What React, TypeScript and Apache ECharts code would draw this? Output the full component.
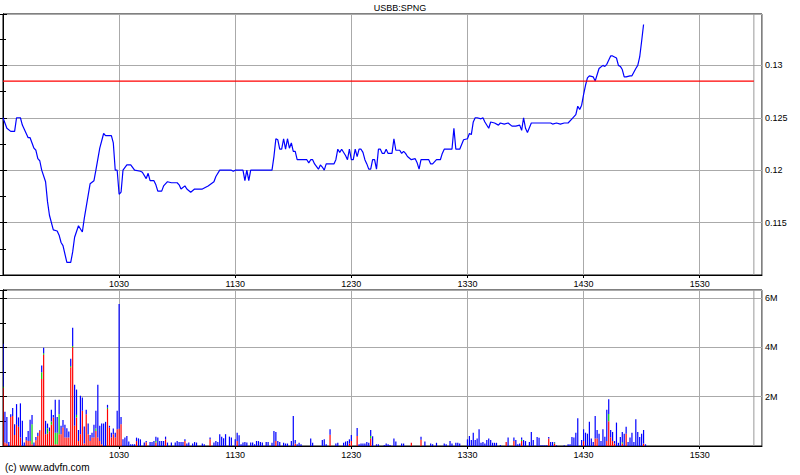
import React, { useEffect, useRef } from 'react';
import * as echarts from 'echarts';

const FONT = '"Liberation Sans", Arial, sans-serif';
const chartTitle = 'USBB:SPNG';
const copyright = '(c) www.advfn.com';
const prevClose = 0.1285;
const closeMarker = 388; // minutes after 09:30, grey vertical line

// intraday price: minutes after 09:30 and last trade price
const priceMinutes = [
  0, 2, 4, 6, 7, 9, 10, 13, 14, 16, 17, 18, 19, 20, 22, 23, 24, 26, 28, 29,
  30, 31, 33, 35, 36, 37, 39, 41, 42, 45, 47, 48, 50, 52, 53, 56, 57, 58, 59, 60,
  61, 62, 64, 66, 68, 71, 72, 74, 75, 76, 78, 79, 80, 82, 83, 85, 87, 90, 91, 92,
  94, 95, 97, 99, 103, 106, 109, 110, 112, 118, 119, 120, 124, 125, 126, 127, 128, 139, 140, 141,
  142, 143, 144, 145, 146, 147, 148, 149, 150, 151, 152, 157, 158, 159, 160, 161, 163, 164, 165, 166,
  167, 171, 172, 173, 174, 175, 177, 178, 179, 180, 181, 182, 183, 184, 185, 186, 187, 188, 189, 190,
  191, 192, 193, 194, 195, 196, 197, 198, 199, 201, 202, 203, 205, 206, 207, 208, 209, 211, 213, 214,
  215, 216, 220, 221, 222, 224, 226, 227, 228, 232, 233, 234, 236, 238, 240, 241, 242, 243, 244, 245,
  247, 248, 249, 251, 252, 254, 256, 257, 259, 261, 263, 265, 267, 268, 269, 270, 271, 273, 276, 279,
  283, 284, 286, 288, 290, 292, 294, 296, 297, 298, 299, 300, 301, 302, 303, 305, 306, 307, 308, 310,
  311, 312, 314, 315, 317, 318, 319, 320, 321, 322, 324, 325, 327, 328, 329, 330, 331,
];
const priceValues = [
  0.125, 0.124, 0.1237, 0.1237, 0.125, 0.125, 0.1243, 0.1231, 0.1231, 0.1221, 0.1219, 0.1211, 0.1209, 0.12, 0.1189, 0.117, 0.1157, 0.1143, 0.1142, 0.1138,
  0.1131, 0.1128, 0.1112, 0.1112, 0.1122, 0.1136, 0.1147, 0.1141, 0.1154, 0.1187, 0.119, 0.12, 0.1221, 0.1235, 0.1233, 0.1233, 0.1226, 0.12, 0.12, 0.1177,
  0.1179, 0.12, 0.1205, 0.1205, 0.12, 0.1199, 0.1198, 0.1192, 0.1197, 0.119, 0.119, 0.1186, 0.118, 0.118, 0.1185, 0.1189, 0.1188, 0.1188, 0.1186, 0.1182,
  0.1185, 0.1182, 0.1179, 0.1182, 0.1182, 0.1185, 0.1189, 0.1194, 0.12, 0.12, 0.1199, 0.12, 0.12, 0.119, 0.12, 0.119, 0.12, 0.12, 0.1213, 0.123,
  0.1229, 0.122, 0.122, 0.123, 0.122, 0.123, 0.1221, 0.1226, 0.1218, 0.1218, 0.121, 0.121, 0.1207, 0.121, 0.121, 0.1206, 0.1201, 0.1205, 0.1203, 0.12,
  0.1206, 0.1206, 0.121, 0.122, 0.1217, 0.122, 0.1214, 0.121, 0.122, 0.121, 0.121, 0.122, 0.1213, 0.122, 0.122, 0.1217, 0.121, 0.1206, 0.1201, 0.1201,
  0.121, 0.121, 0.1201, 0.122, 0.122, 0.1216, 0.1216, 0.122, 0.1216, 0.1216, 0.123, 0.1219, 0.1219, 0.1216, 0.1218, 0.1216, 0.1213, 0.121, 0.1211, 0.1207,
  0.1201, 0.121, 0.121, 0.1206, 0.1206, 0.121, 0.121, 0.1216, 0.122, 0.122, 0.124, 0.122, 0.122, 0.1229, 0.123, 0.1235, 0.1234, 0.1246, 0.125, 0.125,
  0.1249, 0.125, 0.1246, 0.124, 0.1246, 0.1245, 0.1243, 0.1245, 0.1244, 0.1245, 0.1242, 0.1242, 0.1243, 0.1238, 0.125, 0.124, 0.1236, 0.1245, 0.1245, 0.1245,
  0.1245, 0.1244, 0.1245, 0.1244, 0.1245, 0.1245, 0.1249, 0.1253, 0.1261, 0.1258, 0.1262, 0.1272, 0.1281, 0.1288, 0.129, 0.1289, 0.1285, 0.1291, 0.1297, 0.13,
  0.1299, 0.1301, 0.1309, 0.1309, 0.1307, 0.13, 0.1299, 0.1296, 0.1289, 0.1289, 0.129, 0.129, 0.1297, 0.13, 0.1308, 0.1323, 0.1339,
];

// volume per minute (millions): total, red part, green part (blue = rest)
const volMinutes = [
  0, 1, 2, 3, 4, 5, 6, 7, 8, 9,
  10, 11, 12, 13, 14, 15, 16, 17, 18, 19,
  20, 21, 22, 23, 24, 25, 26, 27, 28, 29,
  30, 31, 32, 33, 34, 35, 36, 37, 38, 39,
  40, 41, 42, 43, 44, 45, 46, 47, 48, 49,
  50, 51, 52, 53, 54, 55, 56, 57, 58, 59,
  60, 61, 62, 63, 64, 65, 66, 67, 68, 69,
  70, 71, 73, 74, 76, 77, 78, 79, 80, 81,
  82, 83, 84, 85, 87, 89, 90, 91, 92, 93,
  94, 95, 96, 98, 99, 100, 103, 104, 107, 109,
  110, 111, 112, 113, 114, 115, 117, 118, 120, 121,
  122, 123, 124, 125, 126, 128, 129, 130, 131, 132,
  133, 134, 136, 137, 139, 140, 141, 142, 143, 145,
  146, 147, 149, 150, 151, 152, 153, 154, 159, 160,
  165, 166, 167, 169, 172, 173, 176, 177, 178, 179,
  180, 183, 184, 185, 186, 187, 188, 189, 190, 191,
  193, 194, 197, 198, 199, 200, 202, 203, 206, 207,
  211, 216, 218, 221, 222, 224, 228, 229, 231, 232,
  234, 235, 236, 240, 241, 242, 243, 244, 245, 246,
  247, 248, 249, 250, 251, 252, 253, 254, 255, 257,
  260, 261, 264, 265, 266, 267, 268, 269, 270, 272,
  273, 274, 276, 277, 278, 279, 280, 281, 282, 283,
  284, 285, 286, 290, 292, 293, 294, 295, 296, 297,
  299, 300, 301, 302, 303, 304, 305, 306, 307, 308,
  309, 310, 311, 312, 313, 314, 315, 316, 317, 318,
  319, 320, 321, 322, 323, 324, 325, 326, 327, 328,
  329, 330, 331, 332,
];
const volTotal = [
  4.15, 1.39, 1.18, 0.16, 1.29, 1.54, 0.88, 1.7, 1.16, 1.73,
  1.02, 0.14, 0.37, 0.61, 1.07, 1.26, 0.14, 0.37, 0.54, 0.64,
  3.27, 3.99, 1.02, 0.91, 0.75, 1.47, 1.26, 1.88, 1.18, 1.88,
  0.82, 1.06, 0.86, 0.72, 0.59, 3.54, 4.8, 2.49, 2.29, 0.65,
  2.04, 1.97, 0.79, 1.47, 0.91, 0.45, 0.54, 0.86, 1.43, 2.49,
  0.82, 0.91, 0.91, 0.98, 1.67, 0.82, 0.54, 0.71, 0.54, 1.43,
  5.76, 1.18, 0.27, 0.34, 0.41, 0.18, 0.07, 0.07, 0.07, 0.34,
  0.31, 0.27, 0.14, 0.2, 0.16, 0.16, 0.2, 0.38, 0.34, 0.2,
  0.2, 0.2, 0.38, 0.14, 0.14, 0.14, 0.2, 0.16, 0.16, 0.16,
  0.27, 0.1, 0.14, 0.1, 0.16, 0.14, 0.1, 0.07, 0.34, 0.14,
  0.2, 0.16, 0.48, 0.38, 0.31, 0.48, 0.38, 0.34, 0.27, 0.54,
  0.44, 0.07, 0.14, 0.16, 0.14, 0.14, 0.14, 0.07, 0.2, 0.2,
  0.16, 0.14, 0.16, 0.16, 0.13, 0.61, 0.57, 0.2, 0.16, 0.13,
  0.1, 0.1, 0.2, 1.22, 0.24, 0.07, 0.13, 0.07, 0.3, 0.13,
  0.24, 0.27, 0.07, 0.68, 0.1, 0.13, 0.13, 0.18, 0.2, 0.27,
  0.45, 0.73, 0.07, 0.1, 0.1, 0.1, 0.16, 0.13, 0.65, 0.4,
  0.07, 0.07, 0.04, 0.1, 0.07, 0.04, 0.3, 0.18, 0.1, 0.1,
  0.13, 0.38, 0.18, 0.1, 0.07, 0.13, 0.1, 0.07, 0.2, 0.1,
  0.13, 0.13, 0.1, 0.27, 0.41, 0.24, 0.54, 0.24, 0.3, 0.68,
  0.13, 0.16, 0.1, 0.24, 0.3, 0.24, 0.13, 0.13, 0.13, 0.04,
  0.16, 0.34, 0.34, 0.24, 0.07, 0.1, 0.34, 0.24, 0.2, 0.16,
  0.57, 0.24, 0.37, 0.33, 0.03, 0.03, 0.03, 0.03, 0.37, 0.16,
  0.16, 0.16, 0.03, 0.03, 0.07, 0.07, 0.37, 0.34, 0.54, 1.13,
  0.24, 0.68, 0.54, 0.5, 0.98, 0.3, 0.16, 1.22, 0.65, 0.5,
  0.2, 0.68, 0.38, 1.47, 1.9, 0.65, 0.57, 0.2, 0.95, 0.13,
  0.37, 0.57, 0.5, 0.78, 0.16, 0.34, 0.54, 0.16, 1.09, 0.57,
  0.37, 0.5, 0.65, 0.07,
];
const volRed = [
  2.35, 0.14, 0.1, 0, 1.18, 1.22, 0.45, 0.86, 0.78, 0.34,
  0, 0, 0.23, 0.2, 0.2, 0.07, 0, 0.23, 0.41, 0.61,
  2.72, 3.7, 0.48, 0.5, 0.6, 0.86, 1.16, 0.07, 0.07, 0.48,
  0.48, 0.75, 0.34, 0.34, 0.34, 3.2, 4.01, 0.82, 1.16, 0.2,
  0.48, 1.43, 0.1, 1.29, 0.48, 0.2, 0.34, 0.34, 0.61, 0.34,
  0.2, 0.07, 0, 0, 1.5, 0.75, 0.34, 0.48, 0.34, 0.68,
  0.7, 0.88, 0, 0, 0, 0, 0, 0, 0, 0.2,
  0, 0, 0, 0.15, 0, 0, 0, 0.14, 0, 0,
  0, 0, 0.27, 0, 0, 0, 0, 0, 0, 0,
  0.2, 0, 0, 0, 0, 0, 0, 0, 0.27, 0,
  0, 0, 0, 0, 0, 0, 0, 0, 0, 0.2,
  0, 0, 0, 0, 0, 0, 0, 0, 0, 0,
  0, 0, 0, 0, 0, 0, 0.2, 0, 0, 0,
  0, 0, 0, 0, 0.1, 0, 0, 0, 0, 0,
  0, 0, 0, 0.46, 0, 0, 0, 0, 0, 0.1,
  0.2, 0.41, 0, 0, 0, 0, 0, 0, 0.31, 0,
  0, 0, 0, 0, 0, 0, 0, 0, 0, 0,
  0.13, 0.25, 0, 0, 0, 0, 0, 0, 0, 0,
  0, 0, 0, 0, 0, 0, 0, 0, 0, 0,
  0, 0, 0, 0, 0, 0, 0, 0, 0, 0,
  0.16, 0, 0.2, 0, 0, 0, 0.2, 0, 0, 0,
  0, 0, 0, 0, 0, 0, 0, 0, 0.3, 0,
  0, 0.1, 0, 0, 0, 0, 0, 0, 0, 0,
  0, 0.2, 0, 0, 0, 0, 0, 0.3, 0.3, 0,
  0, 0, 0, 0.2, 1.0, 0.35, 0.2, 0.1, 0, 0,
  0, 0.1, 0, 0.5, 0, 0, 0, 0, 0, 0,
  0, 0, 0.1, 0,
];
const volGreen = [
  0.06, 0, 0, 0, 0, 0, 0, 0, 0, 0,
  0, 0, 0, 0, 0, 0.81, 0, 0, 0, 0,
  0.27, 0.06, 0, 0.22, 0, 0.13, 0, 0.47, 0.47, 0.81,
  0, 0, 0, 0, 0, 0.05, 0.05, 0, 0.1, 0,
  0, 0, 0, 0, 0, 0, 0, 0, 0.1, 0,
  0, 0, 0, 0, 0.05, 0, 0, 0, 0, 0,
  0, 0, 0, 0, 0, 0, 0, 0, 0, 0,
  0, 0, 0, 0, 0, 0, 0, 0.06, 0, 0,
  0, 0, 0, 0, 0, 0, 0, 0, 0, 0,
  0, 0, 0, 0, 0, 0, 0, 0, 0, 0,
  0, 0, 0, 0, 0, 0, 0, 0, 0, 0,
  0, 0, 0, 0, 0, 0, 0, 0, 0, 0,
  0, 0, 0, 0, 0, 0, 0, 0, 0, 0,
  0, 0, 0, 0, 0, 0, 0, 0, 0, 0,
  0, 0, 0, 0, 0, 0, 0, 0, 0, 0,
  0, 0, 0, 0, 0, 0, 0, 0, 0.1, 0,
  0, 0, 0, 0, 0, 0, 0, 0, 0, 0,
  0, 0, 0, 0, 0, 0, 0, 0, 0, 0,
  0, 0, 0, 0, 0, 0, 0, 0, 0, 0,
  0, 0, 0, 0, 0, 0, 0, 0, 0, 0,
  0, 0, 0, 0, 0, 0, 0.05, 0, 0, 0,
  0, 0, 0, 0, 0, 0, 0, 0, 0, 0,
  0, 0.04, 0, 0, 0, 0, 0, 0, 0, 0,
  0, 0, 0, 0, 0, 0, 0, 0, 0, 0,
  0, 0, 0, 0, 0.3, 0, 0, 0, 0, 0,
  0, 0.05, 0, 0, 0, 0, 0, 0, 0, 0,
  0, 0, 0, 0,
];

const X_MAX = 392.2;
const PRICE_MIN = 0.11;
const PRICE_MAX = 0.1349;
const VOL_MAX = 6.33;
const GRID_COLOR = '#aaaaaa';

function hhmm(v: number): string {
  const t = 570 + Math.round(v);
  const h = Math.floor(t / 60);
  const m = t % 60;
  return `${h}${m < 10 ? '0' : ''}${m}`;
}

function xLabel(v: number): string {
  if (v <= 0 || v >= X_MAX - 1) return '';
  if (Math.abs(v % 60) > 0.01) return '';
  return hhmm(v);
}

function makeXAxis(gridIndex: number) {
  return {
    type: 'value',
    gridIndex,
    min: 0,
    max: X_MAX,
    interval: 60,
    axisLine: { show: true, lineStyle: { color: '#000', width: 1 } },
    axisTick: { show: true, length: 3, lineStyle: { color: '#000' } },
    splitLine: { show: true, lineStyle: { color: GRID_COLOR, width: 1 } },
    axisLabel: {
      formatter: xLabel,
      color: '#000',
      fontSize: 9,
      fontFamily: FONT,
      margin: 4,
      showMinLabel: false,
      showMaxLabel: false,
    },
  };
}

function makeYAxis(gridIndex: number, position: string, min: number, max: number, interval: number, labels: boolean, split: boolean, fmt: (v: number) => string) {
  return {
    type: 'value',
    gridIndex,
    position,
    min,
    max,
    interval,
    axisLine: { show: true, lineStyle: { color: '#000', width: 1 } },
    axisTick: { show: true, inside: true, length: 4, lineStyle: { color: '#000' } },
    minorTick: { show: true, splitNumber: 2, length: 3, lineStyle: { color: '#000' } },
    splitLine: { show: split, lineStyle: { color: GRID_COLOR, width: 1 } },
    axisLabel: {
      show: labels,
      formatter: fmt,
      color: '#000',
      fontSize: 9,
      fontFamily: FONT,
      margin: 3,
      showMinLabel: false,
      showMaxLabel: false,
    },
  };
}

const priceFmt = (v: number) => {
  if (v <= 0.1101 || v > 0.1345) return '';
  return String(parseFloat(v.toFixed(4)));
};
const volFmt = (v: number) => {
  if (v <= 0 || Math.abs(v - Math.round(v)) > 0.001) return '';
  return `${Math.round(v)}M`;
};

function refLine(xi: number, yi: number, data: number[][], color: string, width: number, z: number) {
  return {
    type: 'line',
    xAxisIndex: xi,
    yAxisIndex: yi,
    data,
    silent: true,
    showSymbol: false,
    symbol: 'none',
    lineStyle: { color, width, type: 'solid' },
    itemStyle: { color },
    emphasis: { disabled: true },
    z,
  };
}

export default function App() {
  const ref = useRef<HTMLDivElement>(null);
  useEffect(() => {
    if (!ref.current) return;
    const chart = echarts.init(ref.current, null, { renderer: 'svg' });
    const priceData = priceMinutes.map((m, i) => [m, priceValues[i]]);
    const volData = volMinutes.map((m, i) => [
      m,
      volRed[i],
      volGreen[i],
      Math.max(0, volTotal[i] - volRed[i] - volGreen[i]),
    ]);
    const option: any = {
      animation: false,
      backgroundColor: '#ffffff',
      grid: [
        { left: 3, top: 14, width: 759, height: 261, show: true, borderColor: '#000', borderWidth: 1, backgroundColor: 'transparent' },
        { left: 3, top: 290, width: 759, height: 156, show: true, borderColor: '#000', borderWidth: 1, backgroundColor: 'transparent' },
      ],
      xAxis: [makeXAxis(0), makeXAxis(1)],
      yAxis: [
        makeYAxis(0, 'right', PRICE_MIN, PRICE_MAX, 0.005, true, true, priceFmt),
        makeYAxis(0, 'left', PRICE_MIN, PRICE_MAX, 0.005, false, false, priceFmt),
        makeYAxis(1, 'right', 0, VOL_MAX, 2, true, true, volFmt),
        makeYAxis(1, 'left', 0, VOL_MAX, 2, false, false, volFmt),
      ],
      graphic: [
        {
          type: 'text',
          left: 'center',
          top: 3,
          style: { text: chartTitle, fill: '#000', font: `9px ${FONT}` },
        },
        {
          type: 'text',
          left: 5,
          top: 462,
          style: { text: copyright, fill: '#000', font: `10px ${FONT}` },
        },
      ],
      series: [
        refLine(0, 0, [[closeMarker, PRICE_MIN], [closeMarker, PRICE_MAX]], '#999999', 1, 2),
        refLine(1, 2, [[closeMarker, 0], [closeMarker, VOL_MAX]], '#999999', 1, 2),
        {
          type: 'line',
          xAxisIndex: 0,
          yAxisIndex: 0,
          data: priceData,
          showSymbol: false,
          symbol: 'none',
          lineStyle: { color: '#0000ff', width: 1.2 },
          itemStyle: { color: '#0000ff' },
          silent: true,
          z: 5,
        },
        refLine(0, 0, [[0, prevClose], [closeMarker, prevClose]], '#ff0000', 1.2, 6),
        {
          type: 'custom',
          xAxisIndex: 1,
          yAxisIndex: 2,
          data: volData,
          encode: { x: 0, y: 3 },
          silent: true,
          clip: true,
          renderItem: (params: any, api: any) => {
            const t = api.value(0);
            const r = api.value(1);
            const g = api.value(2);
            const b = api.value(3);
            const p0 = api.coord([t, 0]);
            const p1 = api.coord([t, r]);
            const p2 = api.coord([t, r + g]);
            const p3 = api.coord([t, r + g + b]);
            const w = 1.2;
            const x = p0[0] - w / 2;
            const children: any[] = [];
            const seg = (top: number, bottom: number, color: string) => {
              if (bottom - top > 0.05) {
                children.push({ type: 'rect', shape: { x, y: top, width: w, height: bottom - top }, style: { fill: color } });
              }
            };
            seg(p1[1], p0[1], '#ff0000');
            seg(p2[1], p1[1], '#00cc00');
            seg(p3[1], p2[1], '#0000ff');
            return { type: 'group', children };
          },
        },
      ],
    };
    chart.setOption(option);
    return () => chart.dispose();
  }, []);
  return (
    <div
      ref={ref}
      style={{ position: 'absolute', left: 0, top: 0, width: 800, height: 475, background: '#fff' }}
    />
  );
}
